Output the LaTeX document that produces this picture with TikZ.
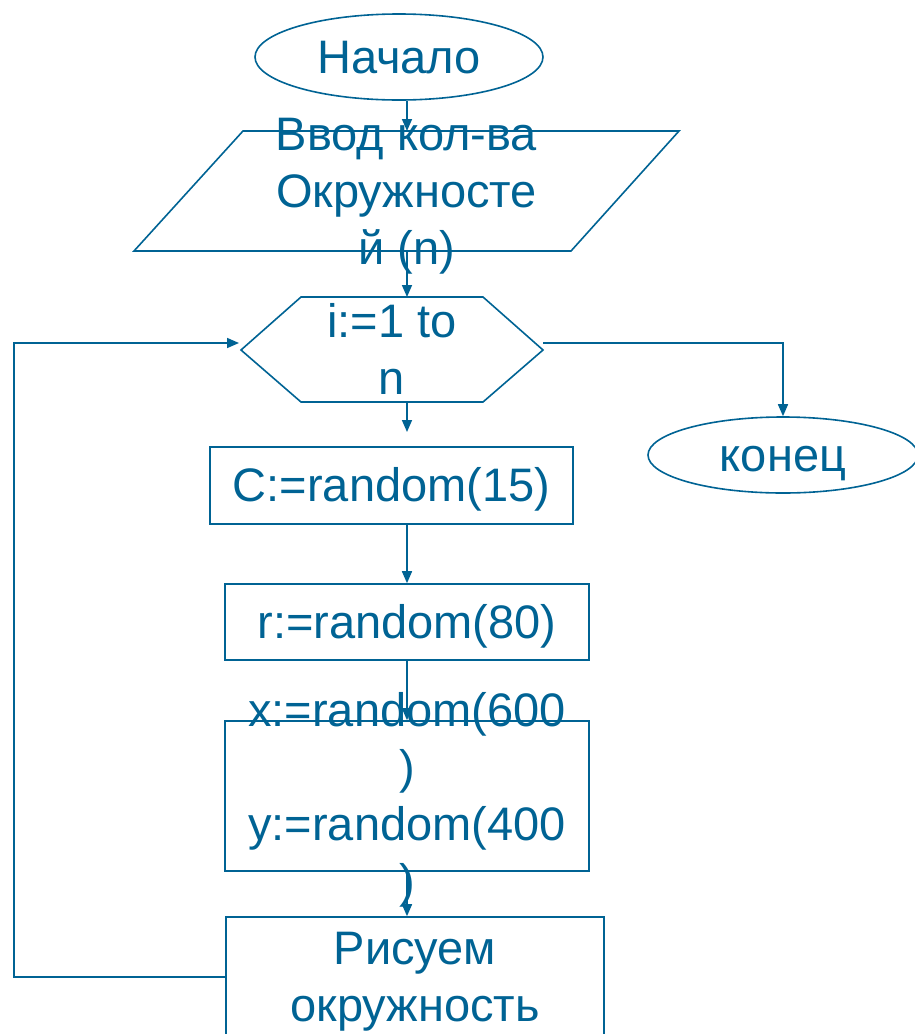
\documentclass[tikz,border=0pt]{standalone}
\usepackage{fontspec}
\setmainfont{Liberation Sans}
\usetikzlibrary{arrows.meta,shapes.geometric}
\definecolor{fcblue}{RGB}{0,99,148}
\newcommand\ppst{\rule[-10pt]{0pt}{52.5pt}}
\begin{document}
\begin{tikzpicture}[x=1pt,y=-1pt,
  txt/.style={text=fcblue, font=\fontsize{47}{57}\selectfont, align=center, inner sep=0pt},
  shp/.style={draw=fcblue, line width=1.6pt},
  boxn/.style={shp, txt, rectangle},
  ovaln/.style={shp, txt, ellipse},
  arr/.style={draw=fcblue, line width=1.6pt, -{Triangle[length=12pt,width=10pt]}}]
\useasboundingbox (0,0) rectangle (915,1034);

% start / end
\node[ovaln, minimum width=288pt, minimum height=86pt] (start) at (399,57) {\ppst Начало};
\node[ovaln, minimum width=270pt, minimum height=76pt] (end) at (783,455) {\ppst конец};

% input parallelogram
\draw[shp] (243,131) -- (679,131) -- (571,251) -- (134,251) -- cycle;
\node[txt] (in) at (406.5,191) {\ppst Ввод кол-ва\\Окружносте\\й (n)\ppst};
\coordinate (inT) at (407,131);
\coordinate (inB) at (407,251);

% loop hexagon
\draw[shp] (301,297) -- (483,297) -- (543,350) -- (483,402) -- (301,402) -- (241,350) -- cycle;
\node[txt] (loop) at (392,350) {\ppst i:=1 to\\n\ppst};
\coordinate (hexT) at (407,297);
\coordinate (hexB) at (407,402);
\coordinate (hexL) at (239,343);
\coordinate (hexR) at (543,343);
\coordinate (cgap) at (407,432);
\coordinate (lp) at (14,343);

% process boxes
\node[boxn, minimum width=363pt, minimum height=77pt] (c) at (391.5,485.5) {\ppst C:=random(15)};
\node[boxn, minimum width=364pt, minimum height=76pt] (r) at (407,622) {\ppst r:=random(80)};
\node[shp, rectangle, inner sep=0pt, minimum width=364pt, minimum height=150pt] (xy) at (407,796) {};
\node[txt] (xyt) at (xy.center) {\ppst x:=random(600\\)\\y:=random(400\\)\ppst};
\node[boxn, minimum width=378pt, minimum height=120pt] (dr) at (415,977) {\ppst Рисуем\\окружность\ppst};

% connectors
\draw[arr] (start.south -| inT) -- (inT);
\draw[arr] (inB) -- (hexT);
\draw[arr] (hexB) -- (cgap);
\draw[arr] (c.south -| r.north) -- (r.north);
\draw[arr] (r.south) -- (xy.north);
\draw[arr] (xy.south) -- (xy.south |- dr.north);
\draw[arr] (dr.west) -| (lp) -- (hexL);
\draw[arr] (hexR) -| (end.north);
\end{tikzpicture}
\end{document}
